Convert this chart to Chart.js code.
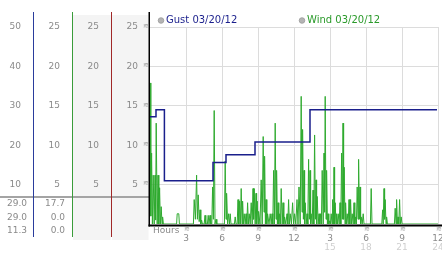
<!DOCTYPE html>
<html>
<head>
<meta charset="utf-8">
<script src="https://cdn.jsdelivr.net/npm/chart.js@4"></script>
<style>
html,body{margin:0;padding:0;background:#fff;}
canvas{display:block;}
</style>
</head>
<body>
<canvas id="c" width="442" height="253"></canvas>
<script>
// ---- data (times in minutes from midnight, speeds) ----
const gustMinutes = [0, 30, 72, 315, 380, 525, 800, 1435];
const gustSpeeds  = [13.6, 14.5, 5.5, 7.8, 8.8, 10.4, 14.5, 14.5];

const windMinutes = [
0,4,8,12,16,21,25,28,31,36,40,44,48,52,56,60,63,67,
133,136,144,147,
217,221,227,233,237,241,246,250,254,258,262,
271,275,279,287,291,295,300,304,
309,313,317,321,325,330,334,
372,376,380,383,388,393,397,401,405,422,426,430,
436,440,444,448,452,456,460,463,467,471,476,480,484,488,492,496,501,506,511,515,518,521,526,530,533,536,540,543,550,
556,561,566,570,573,577,580,584,588,595,601,606,610,614,618,622,626,630,633,637,640,644,648,652,656,661,665,669,673,679,
685,689,693,697,701,707,713,718,723,729,735,740,745,751,756,760,763,767,770,773,776,781,785,789,793,797,800,803,806,811,
815,819,823,827,830,833,836,841,845,849,853,857,861,866,870,873,876,880,883,887,890,894,898,902,906,910,913,917,920,923,
926,930,933,937,941,946,950,954,958,962,965,968,971,975,978,982,986,991,995,999,1003,1007,1011,1016,1020,1024,1028,1032,
1036,1040,1043,1047,1050,1053,1056,1061,1066,1070,
1102,1106,1110,
1159,1163,1166,1170,1173,1176,1180,1183,1187,
1222,1226,1230,1233,1237,1240,1244,1248,1252,1256,1260,1440
];
const windSpeeds = [
17.9,1,9.0,0,6.2,0,6.2,0.5,12.8,0,6.2,0,4.6,0,2.2,0,0.9,0,
0,1.3,1.3,0,
0,3.1,0.6,6.2,0.6,3.7,0.3,1.8,0,0.5,0,
0,1.1,0,0,1.1,0,1.1,0,
0,4.7,0.6,14.4,0,0.6,0,
0,8.0,0.6,3.9,0,1.3,0,1.3,0,0,0.9,0,
0,3.1,0,2.9,0,4.5,0,2.9,0,1.3,0,1.3,0,2.7,0,1.3,0,2.7,0,4.5,0.6,4.5,0,3.9,0,2.9,0,1.6,0,
5.6,0,11.1,1.5,8.6,0,3.1,0,1.3,0,1.3,0,1.3,0,6.8,0,12.8,0.6,6.8,0,2.7,0,1.3,0,4.5,0,2.7,0,0.9,0,
1.3,0,3.1,0,1.3,0,2.7,0,1.3,0,3.1,0,4.7,0,16.2,1.5,12.0,0.6,6.8,0,2.7,0,1.3,0,8.2,0.6,6.8,0,1.3,0,
4.3,0,11.3,0.6,5.6,0,3.5,0,1.3,0,1.3,0,6.8,0,9.0,1.5,16.2,0.6,6.8,0,1.3,0,0.4,0,1.3,0,3.1,0,7.2,0,
2.7,0,1.3,0,1.3,0,2.7,0,9.0,0.6,12.8,0.6,7.2,0,2.7,0,1.3,0,3.1,0,3.1,0,1.3,0,2.7,0,0.9,0,
4.7,0.6,8.2,0.6,4.7,0,0.9,0,1.3,0,
0,4.5,0,
0,1.8,0,4.5,0.6,3.1,0,0.9,0,
0,2.0,0,3.1,0,0.9,0,3.1,0,0.9,0,0
];

// ---- axis / panel texts ----
const hourTicks = [3, 6, 9, 12, 15, 18, 21, 24];
const hourLabels = ['3', '6', '9', '12', '3', '6', '9', '12'];
const hourLabels24 = ['', '', '', '', '15', '18', '21', '24'];
const panel1Ticks = [10, 20, 30, 40, 50];
const panelTicks = [5, 10, 15, 20, 25];
const summary1 = ['29.0', '29.0', '11.3'];
const summary2 = ['17.7', '0.0', '0.0'];
const legendLabels = ['Gust 03/20/12', 'Wind 03/20/12'];

const FONT = 'DejaVu Sans';
const TXT = '#8a8a8a';
const GUST = '#1a1f8c';
const WIND = '#2faa2f';

Chart.defaults.font.family = FONT;
Chart.defaults.font.size = 9;

function panelAxis(weight, max, ticks, width, showGrid) {
  return {
    type: 'linear', position: 'left', weight: weight, min: 0, max: max,
    afterBuildTicks: s => { s.ticks = ticks.map(v => ({value: v})); },
    afterFit: s => { s.width = width; s.paddingTop = 0; s.paddingBottom = 0; },
    ticks: { color: TXT, padding: 12, autoSkip: false, crossAlign: 'near', font: {family: FONT, size: 9} },
    grid: { display: showGrid, drawTicks: false, color: '#dcdcdc', lineWidth: 1 },
    border: { display: false }
  };
}

const deco = {
  id: 'deco',
  beforeDraw(chart) {
    const ctx = chart.ctx;
    const p3 = chart.scales.p3, p4 = chart.scales.p4;
    ctx.save();
    ctx.fillStyle = '#f4f4f4';
    ctx.fillRect(p3.left + 1, 15, p3.right - p3.left - 1, 225);
    ctx.fillRect(p4.left + 1, 15, p4.right - p4.left - 2.5, 225);
    ctx.restore();
  },
  afterDraw(chart) {
    const ctx = chart.ctx;
    const s = chart.scales;
    const ca = chart.chartArea;
    ctx.save();
    // panel separator
    ctx.fillStyle = '#a4a4a4';
    ctx.fillRect(0, 196, ca.left - 1, 2);
    // coloured column lines
    const cols = [[s.p1, '#2a3c9c'], [s.p2, '#3a9c3a'], [s.p3, '#a02828']];
    cols.forEach(([sc, col]) => {
      ctx.strokeStyle = col; ctx.lineWidth = 1;
      ctx.beginPath(); ctx.moveTo(sc.right + 0.5, 12); ctx.lineTo(sc.right + 0.5, 237); ctx.stroke();
    });
    // black axes
    ctx.fillStyle = '#000';
    ctx.fillRect(ca.left - 1.5, 12, 1.5, ca.bottom + 2.5 - 12);
    ctx.fillRect(ca.left - 1.5, ca.bottom + 0.5, 442 - ca.left + 1.5, 2);
    // summary values
    ctx.fillStyle = TXT;
    ctx.font = '9px "' + FONT + '"';
    ctx.textAlign = 'right';
    ctx.textBaseline = 'middle';
    const rows = [204, 217.5, 231];
    summary1.forEach((t, i) => ctx.fillText(t, s.p1.right - 6, rows[i]));
    summary2.forEach((t, i) => ctx.fillText(t, s.p2.right - 7, rows[i]));
    // Hours label
    ctx.textAlign = 'left';
    ctx.fillText('Hours', ca.left + 3, 231);
    // tick marks
    ctx.fillStyle = '#a0a0a0';
    ctx.font = '7px "' + FONT + '"';
    ctx.textAlign = 'center';
    panelTicks.forEach(v => ctx.fillText('\u224B', ca.left - 4, s.y.getPixelForValue(v) - 1));
    hourTicks.forEach(h => ctx.fillText('\u224B', s.x.getPixelForValue(h * 60) + 1, 229.5));
    // legend
    const lg = [[ca.left + 11, GUST, legendLabels[0]], [ca.left + 152, '#2a9a2a', legendLabels[1]]];
    ctx.font = '10px "' + FONT + '"';
    ctx.textAlign = 'left';
    lg.forEach(([x, col, t]) => {
      ctx.beginPath(); ctx.arc(x, 20.5, 2.8, 0, Math.PI * 2);
      ctx.fillStyle = '#b4b4b4'; ctx.fill();
      ctx.strokeStyle = '#9a9a9a'; ctx.lineWidth = 0.8; ctx.stroke();
      ctx.fillStyle = col;
      ctx.fillText(t, x + 5, 20.5);
    });
    ctx.restore();
  }
};

new Chart(document.getElementById('c'), {
  type: 'line',
  data: {
    datasets: [
      {
        label: legendLabels[0],
        data: gustMinutes.map((m, i) => ({x: m, y: gustSpeeds[i]})),
        borderColor: GUST, borderWidth: 1.5, pointRadius: 0, stepped: true, yAxisID: 'y', xAxisID: 'x'
      },
      {
        label: legendLabels[1],
        data: windMinutes.map((m, i) => ({x: m, y: windSpeeds[i]})),
        borderColor: WIND, borderWidth: 1, pointRadius: 0, tension: 0, yAxisID: 'y', xAxisID: 'x'
      }
    ]
  },
  options: {
    responsive: false,
    animation: false,
    devicePixelRatio: 1,
    layout: { padding: { top: 27, right: 4, bottom: 0, left: 0 } },
    plugins: { legend: { display: false }, tooltip: { enabled: false } },
    scales: {
      x: {
        type: 'linear', position: 'bottom', weight: 0, min: 0, max: 1440,
        afterBuildTicks: s => { s.ticks = hourTicks.map(h => ({value: h * 60})); },
        afterFit: s => { s.height = 17; s.paddingLeft = 0; s.paddingRight = 0; },
        ticks: { autoSkip: false, maxRotation: 0, color: TXT, padding: 9,
                 callback: (v, i) => hourLabels[i] },
        grid: { color: '#dcdcdc', lineWidth: 1, drawTicks: false },
        border: { display: false }
      },
      x2: {
        type: 'linear', position: 'bottom', weight: 1, min: 0, max: 1440,
        afterBuildTicks: s => { s.ticks = hourTicks.map(h => ({value: h * 60})); },
        afterFit: s => { s.height = 12; s.paddingLeft = 0; s.paddingRight = 0; },
        ticks: { autoSkip: false, maxRotation: 0, color: '#cfcfcf', padding: 1,
                 callback: (v, i) => hourLabels24[i] },
        grid: { display: false, drawTicks: false },
        border: { display: false }
      },
      y: { display: false, min: 0, max: 25 },
      p1: panelAxis(4, 50, panel1Ticks, 33, false),
      p2: panelAxis(3, 25, panelTicks, 39, false),
      p3: panelAxis(2, 25, panelTicks, 39, false),
      p4: panelAxis(1, 25, panelTicks, 39, true)
    }
  },
  plugins: [deco]
});
</script>
</body>
</html>
